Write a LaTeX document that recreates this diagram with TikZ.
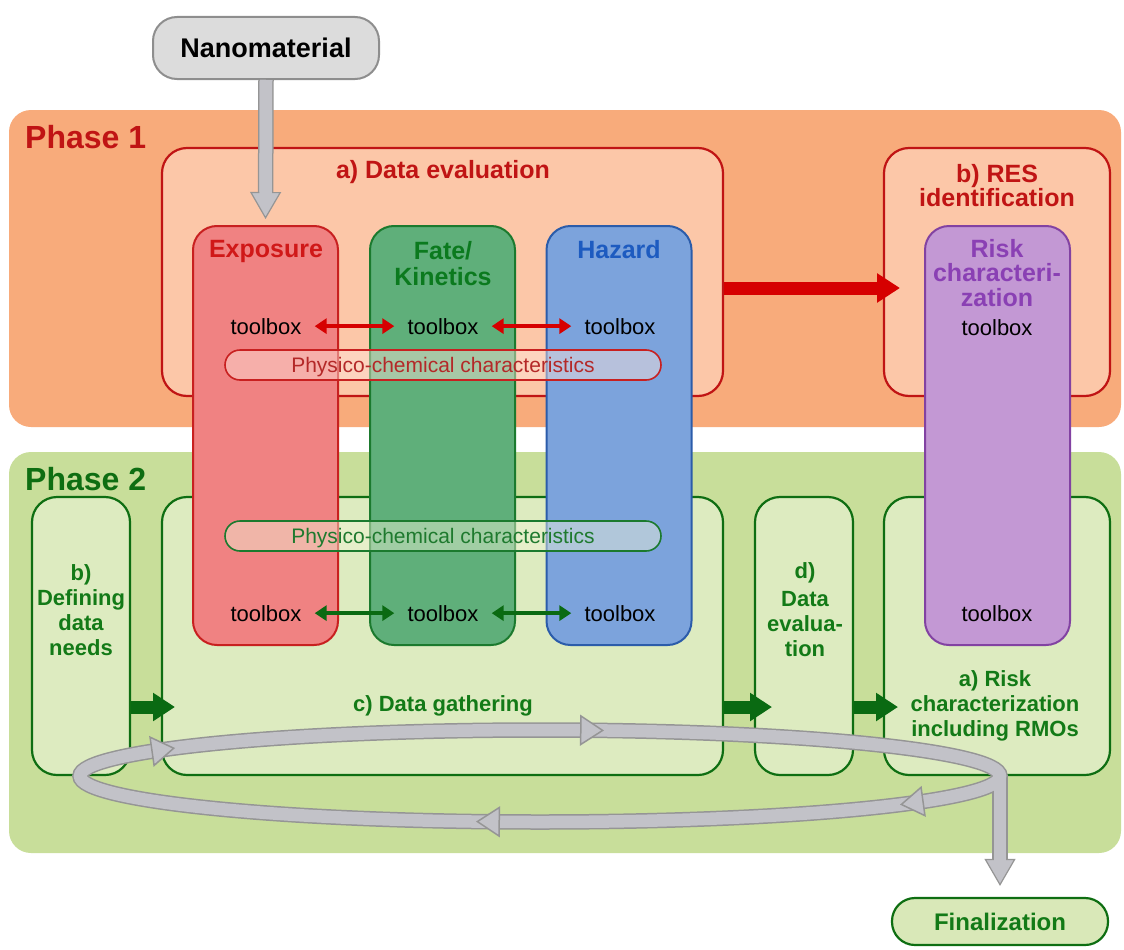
\documentclass[tikz,border=0pt]{standalone}
\usepackage{fontspec}
\setmainfont{Liberation Sans}
\usetikzlibrary{arrows.meta}
\definecolor{ph1bg}{HTML}{F8AB7B}
\definecolor{ph1box}{HTML}{FCC7A8}
\definecolor{ph1line}{HTML}{C01414}
\definecolor{ph2bg}{HTML}{C8DE9A}
\definecolor{ph2box}{HTML}{DDEBC0}
\definecolor{ph2line}{HTML}{0E6E12}
\definecolor{ph2text}{HTML}{137A17}
\definecolor{expofill}{HTML}{F08282}
\definecolor{expoline}{HTML}{C82020}
\definecolor{expotext}{HTML}{D01818}
\definecolor{fatefill}{HTML}{5FAF7A}
\definecolor{fateline}{HTML}{1B7A2E}
\definecolor{fatetext}{HTML}{0B7A1E}
\definecolor{hazfill}{HTML}{7CA3DC}
\definecolor{hazline}{HTML}{2B5CAA}
\definecolor{haztext}{HTML}{1D5BC0}
\definecolor{riskfill}{HTML}{C398D4}
\definecolor{riskline}{HTML}{8242A2}
\definecolor{risktext}{HTML}{8A40B4}
\definecolor{grayfill}{HTML}{C2C2C8}
\definecolor{grayedge}{HTML}{959595}
\definecolor{nanofill}{HTML}{DCDCDC}
\definecolor{nanoline}{HTML}{8E8E8E}
\definecolor{arrred}{HTML}{D60000}
\definecolor{arrgreen}{HTML}{0A6A12}
\definecolor{capfillA}{HTML}{FFE6DC}
\definecolor{capfillB}{HTML}{F2F4D8}
\definecolor{captextA}{HTML}{B42828}
\definecolor{captextB}{HTML}{1E7A2E}
\begin{document}
\begin{tikzpicture}[x=1pt,y=-1pt,
  bgbox/.style={fill=#1, draw=none, rounded corners=22pt, inner sep=0pt},
  pbox/.style 2 args={fill=#1, draw=#2, line width=2.2pt, rounded corners=25pt, inner sep=0pt},
  colbox/.style 2 args={fill=#1, draw=#2, line width=2pt, rounded corners=24pt, inner sep=0pt, minimum width=145pt, minimum height=419pt},
  phlab/.style={font=\bfseries\fontsize{32}{34}\selectfont, inner sep=0pt, anchor=base west},
  labA/.style={font=\bfseries\fontsize{25}{24}\selectfont, text=ph1line, align=center, inner sep=0pt},
  labB/.style={font=\bfseries\fontsize{22}{25}\selectfont, text=ph2text, align=center, inner sep=0pt},
  ttl/.style={font=\bfseries\fontsize{25}{26}\selectfont, align=center, inner sep=0pt},
  tbx/.style={font=\fontsize{22}{24}\selectfont, inner sep=0pt, anchor=base},
  capsule/.style 2 args={draw=#1, text=#2, line width=1.6pt, rounded corners=15pt, minimum width=436pt, minimum height=30pt, inner sep=0pt, text depth=0pt, font=\fontsize{21}{24}\selectfont},
  dblarrow/.style={line width=4.5pt, draw=#1, {Triangle[length=12pt,width=15pt]}-{Triangle[length=12pt,width=15pt]}, shorten <=13pt, shorten >=13pt},
  blockarrow/.style={line width=13pt, draw=#1, -{Triangle[length=22pt,width=27pt]}},
  gout/.style={line width=15.5pt, draw=grayedge},
  gin/.style={line width=12.5pt, draw=grayfill},
  gtip/.style={-{Triangle[length=27pt,width=31pt,line width=1.2pt,color=grayedge,fill=grayfill]}},
  looptip/.style={line width=0.5pt, draw=grayfill, -{Triangle[length=24pt,width=31pt,line width=1.5pt,color=grayedge,fill=grayfill]}}
]
\useasboundingbox (0,0) rectangle (1124,950);
% phase backgrounds
\node[bgbox=ph1bg, minimum width=1112pt, minimum height=317pt] (ph1) at (565,268.5) {};
\node[bgbox=ph2bg, minimum width=1112pt, minimum height=401pt] (ph2) at (565,652.5) {};
\node[phlab, text=ph1line] (ph1t) at (25,148) {Phase 1};
\node[phlab, text=ph2line] (ph2t) at (25,490) {Phase 2};
% phase 1 boxes
\node[pbox={ph1box}{ph1line}, minimum width=561pt, minimum height=248pt] (boxa) at (442.5,272) {};
\node[pbox={ph1box}{ph1line}, minimum width=226pt, minimum height=248pt] (boxres) at (997,272) {};
% phase 2 boxes
\node[pbox={ph2box}{ph2line}, minimum width=98pt, minimum height=278pt] (boxdef) at (81,636) {};
\node[pbox={ph2box}{ph2line}, minimum width=561pt, minimum height=278pt] (boxc) at (442.5,636) {};
\node[pbox={ph2box}{ph2line}, minimum width=98pt, minimum height=278pt] (boxd) at (804,636) {};
\node[pbox={ph2box}{ph2line}, minimum width=226pt, minimum height=278pt] (boxar) at (997,636) {};
% columns
\node[colbox={expofill}{expoline}] (expo) at (265.5,435.5) {};
\node[colbox={fatefill}{fateline}] (fate) at (442.5,435.5) {};
\node[colbox={hazfill}{hazline}] (haz) at (619,435.5) {};
\node[colbox={riskfill}{riskline}] (risk) at (997.5,435.5) {};
% capsules
\node[capsule={expoline}{captextA}, fill=capfillA, fill opacity=0.45, text opacity=1] (capA) at (443,365) {Physico-chemical characteristics};
\node[capsule={fateline}{captextB}, fill=capfillB, fill opacity=0.45, text opacity=1] (capB) at (443,536) {Physico-chemical characteristics};
% labels
\node[labA] (laba) at (443,172) {a) Data evaluation};
\node[labA] (labres) at (997,185.5) {b) RES\\identification};
\node[labB] (labdef) at (81,610.5) {b)\\Defining\\data\\needs};
\node[labB] (labc) at (443,706) {c) Data gathering};
\node[labB] (labd) at (805,610) {d)\\[3pt]Data\\evalua-\\tion};
\node[labB] (labar) at (995,706) {a) Risk\\characterization\\including RMOs};
% column titles
\node[ttl, text=expotext] (ttlexpo) at (266,251) {Exposure};
\node[ttl, text=fatetext] (ttlfate) at (443,264) {Fate/\\Kinetics};
\node[ttl, text=haztext] (ttlhaz) at (619,250) {Hazard};
\node[ttl, text=risktext, font=\bfseries\fontsize{25}{24.5}\selectfont] (ttlrisk) at (997,273) {Risk\\characteri-\\zation};
% toolboxes
\node[tbx] (t1a) at (266,334) {toolbox};
\node[tbx] (t2a) at (443,334) {toolbox};
\node[tbx] (t3a) at (620,334) {toolbox};
\node[tbx] (t4a) at (997,335) {toolbox};
\node[tbx] (t1b) at (266,621) {toolbox};
\node[tbx] (t2b) at (443,621) {toolbox};
\node[tbx] (t3b) at (620,621) {toolbox};
\node[tbx] (t4b) at (997,621) {toolbox};
\draw[dblarrow=arrred] (t1a) -- (t2a);
\draw[dblarrow=arrred] (t2a) -- (t3a);
\draw[dblarrow=arrgreen] (t1b) -- (t2b);
\draw[dblarrow=arrgreen] (t2b) -- (t3b);
% block arrows
\coordinate (rtip) at (900,288);
\draw[blockarrow=arrred, line width=13pt, -{Triangle[length=23pt,width=28pt]}] (rtip -| boxa.east) -- (rtip);
\coordinate (g1) at (175,707);
\coordinate (g2) at (772,707);
\coordinate (g3) at (898,707);
\draw[blockarrow=arrgreen] (g1 -| boxdef.east) -- (g1);
\draw[blockarrow=arrgreen] (g2 -| boxc.east) -- (g2);
\draw[blockarrow=arrgreen] (g3 -| boxd.east) -- (g3);
% finalization node
\node[draw=ph2line, fill=ph2box!80!ph2bg, line width=2.2pt, rounded corners=23pt, minimum width=216pt, minimum height=47pt, inner sep=0pt, font=\bfseries\fontsize{24}{26}\selectfont, text=ph2text] (final) at (1000,921.5) {Finalization};
% loop
\coordinate (loopR) at (1000,776);
\draw[gout] (540,776) ellipse [x radius=460, y radius=46];
\draw[gout, shorten >=25pt] (loopR) -- (final.north);
\draw[gin] (540,776) ellipse [x radius=460, y radius=46];
\draw[gin, gtip, shorten >=11pt] (loopR) -- (final.north);
\draw[gin, shorten >=35pt] (loopR) -- (final.north);
\foreach \t in {38.5,98,217.5,278}{
  \draw[looptip] ({540+460*cos(\t-5)},{776+46*sin(\t-5)}) -- ({540+460*cos(\t)},{776+46*sin(\t)});
}
% nanomaterial
\node[draw=nanoline, fill=nanofill, line width=2pt, rounded corners=24pt, minimum width=226pt, minimum height=62pt, inner sep=0pt, font=\bfseries\fontsize{27}{29}\selectfont] (nano) at (266,48) {Nanomaterial};
\draw[gout, shorten >=30pt] (nano.south) -- (expo.north);
\draw[gin, gtip, shorten >=6pt] (nano.south) -- (expo.north);
\draw[gin, shorten >=30pt] (nano.south) -- (expo.north);
\end{tikzpicture}
\end{document}
